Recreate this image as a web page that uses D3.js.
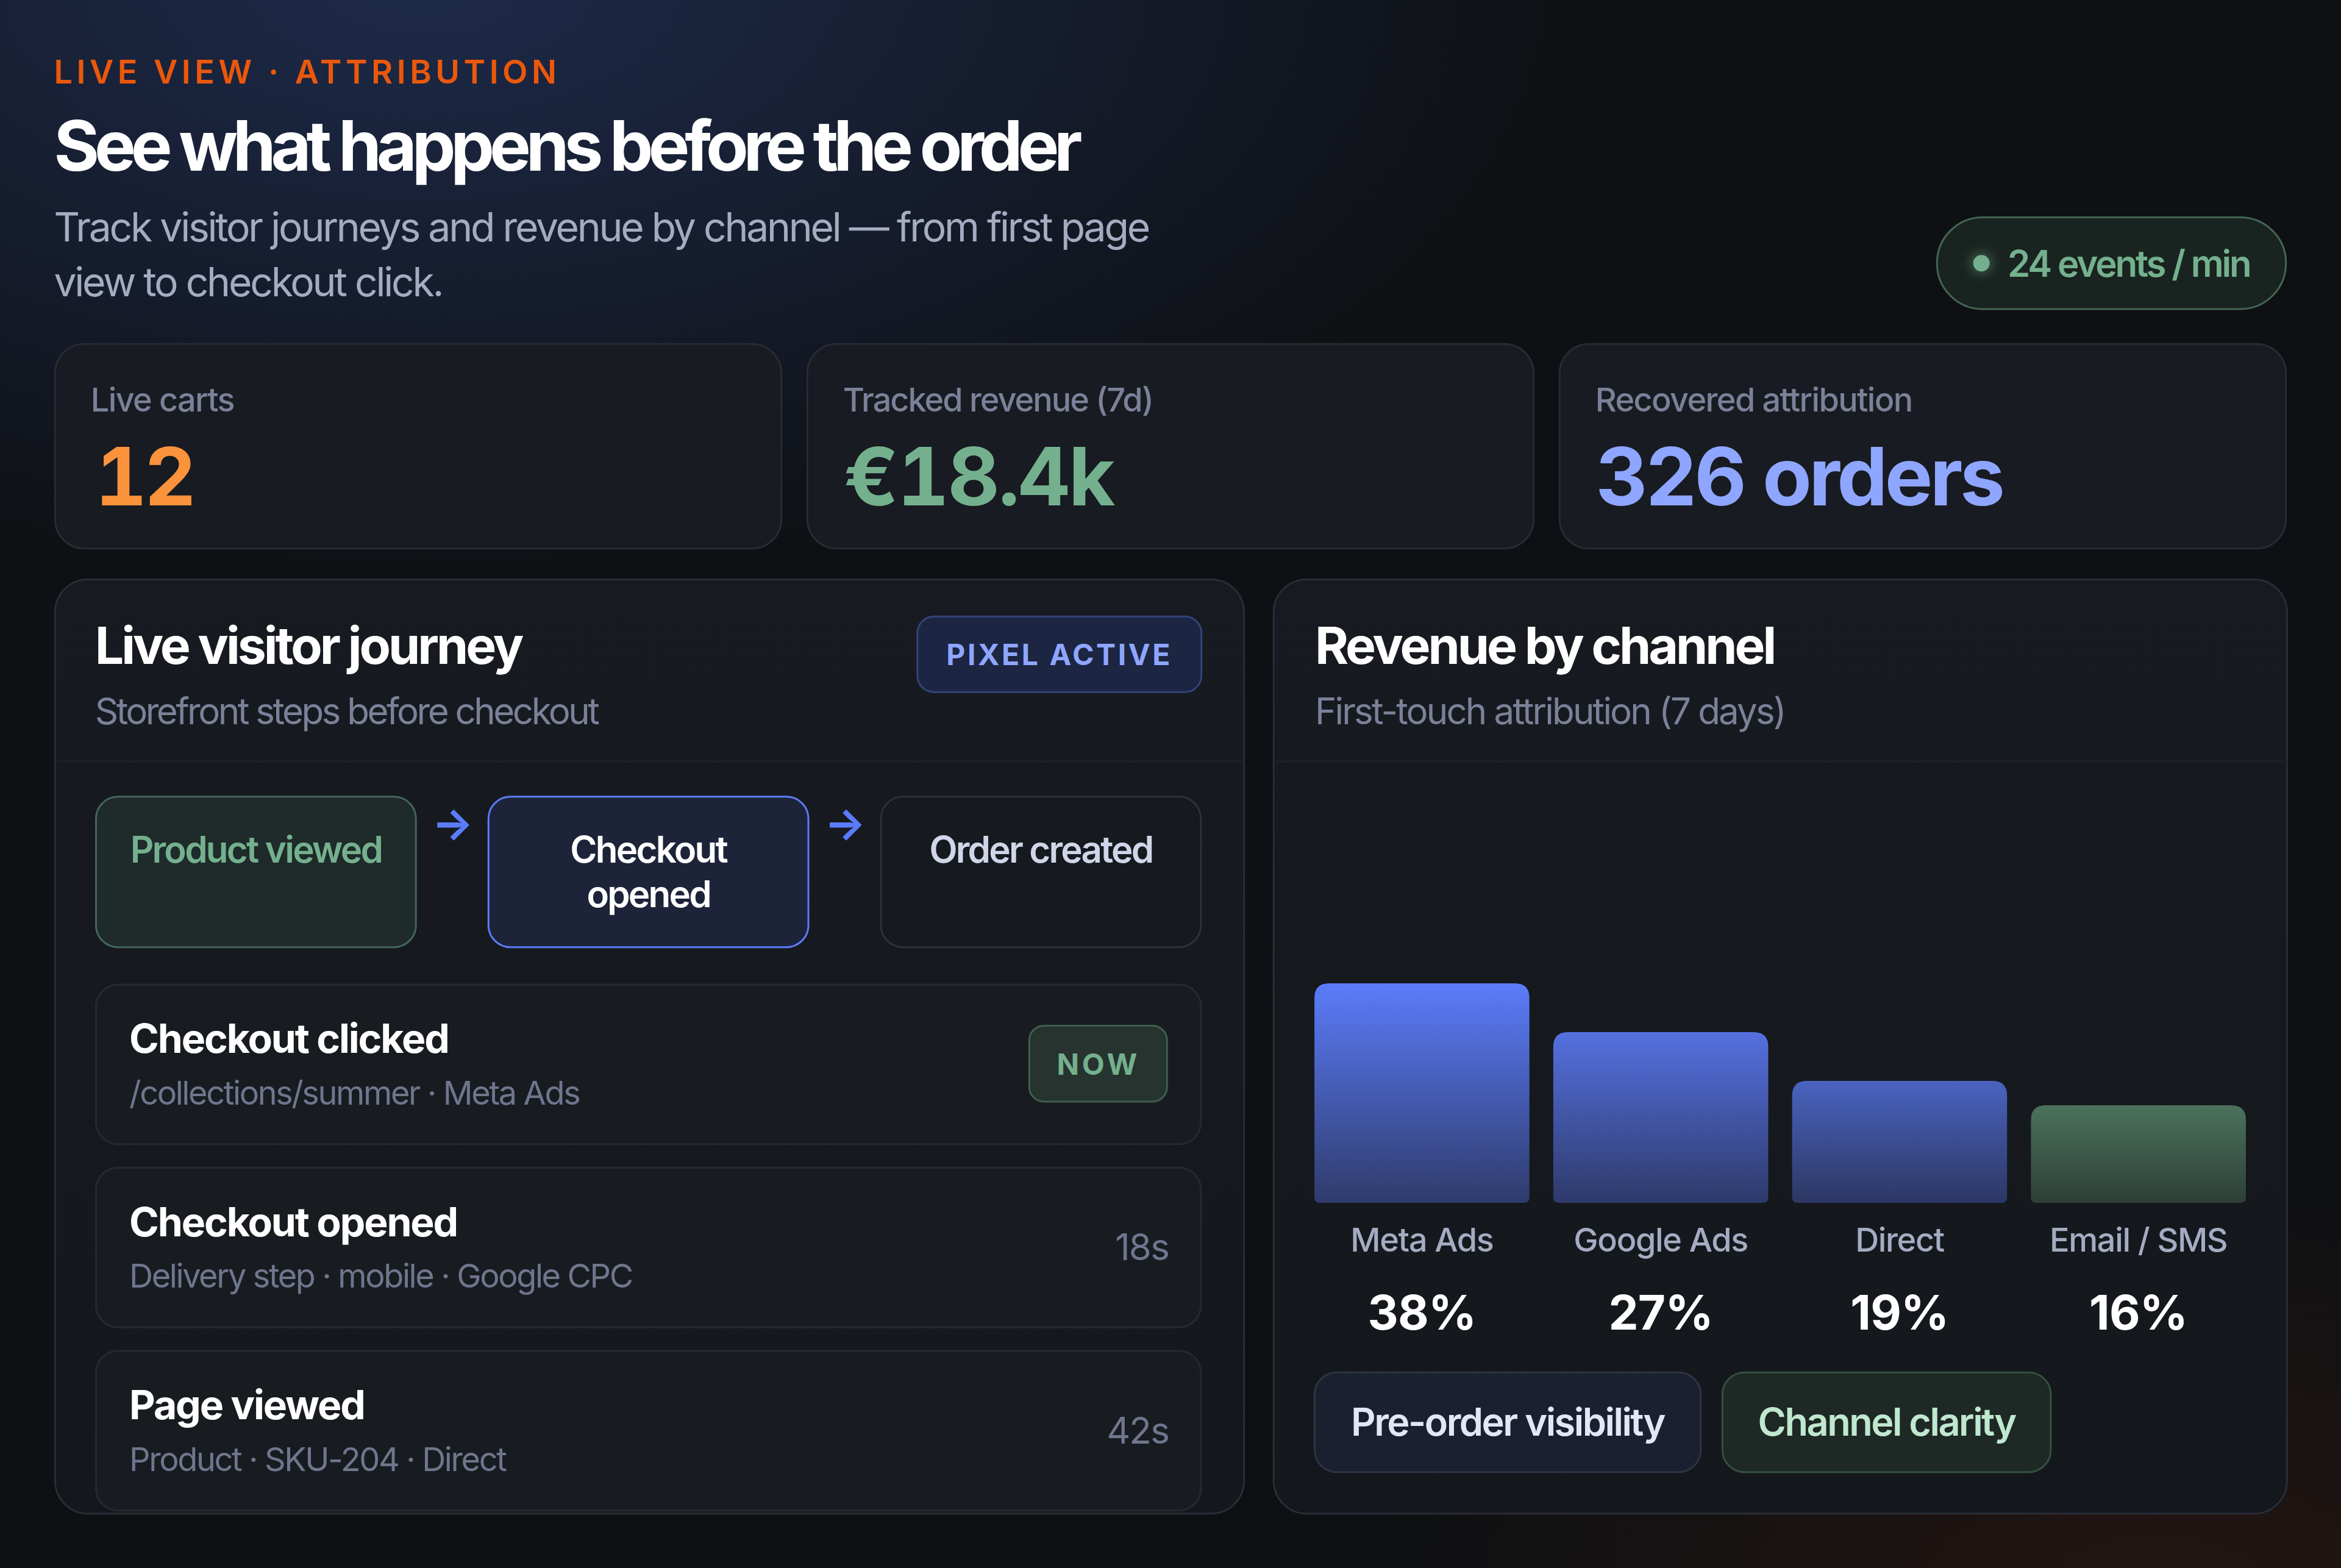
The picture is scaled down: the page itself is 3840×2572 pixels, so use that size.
<!DOCTYPE html>
<html>
<head>
<meta charset="utf-8">
<script src="https://cdn.jsdelivr.net/npm/d3@7"></script>
<style>
    html, body { margin: 0; padding: 0; background: #0e1013; }
    svg { display: block; }
    text { font-family: Inter, "Noto Sans", sans-serif; }
</style>
</head>
<body>
<div id="visualization"></div>
<script>
// values
const statLabels = ["Live carts", "Tracked revenue (7d)", "Recovered attribution"];
const statValues = ["12", "€18.4k", "326 orders"];
const stepLabels = [["Product viewed"], ["Checkout", "opened"], ["Order created"]];
const rowTitles = ["Checkout clicked", "Checkout opened", "Page viewed"];
const rowDetails = ["/collections/summer · Meta Ads", "Delivery step · mobile · Google CPC", "Product · SKU-204 · Direct"];
const rowTimes = ["NOW", "18s", "42s"];
const channels = ["Meta Ads", "Google Ads", "Direct", "Email / SMS"];
const channelShares = [38, 27, 19, 16];
const barLevels = [72, 56, 40, 32]; // bar height in % of the plot, not the same as the share
const tagLabels = ["Pre-order visibility", "Channel clarity"];

// colours
const statColors = ["#fb923c", "#74b08e", "#8ea6ff"];
const barTopColors = ["#5b7cfa", "#5570e0", "#4a63bf", "#4b715c"];
const barBottomColors = ["#2f3b6b", "#2e3a6a", "#2c3763", "#2d3f37"];

// the tracking of each stat text differs a bit in the picture
const statLabelSpacing = [-0.03, -0.037, -0.03];
const statValueSpacing = [-0.035, -0.02, -0.035];
const statValueShift = [2, 0, 0];

const width = 1280;
const height = 2572 / 3;
const margin = { left: 30, right: 30 };

const svg = d3.select("div#visualization").append("svg")
    .attr("width", 3840)
    .attr("height", 2572)
    .attr("viewBox", [0, 0, width, height]);

const defs = svg.append("defs");

function radial(id, cx, cy, rx, ry, color, opacity) {
    const g = defs.append("radialGradient").attr("id", id)
        .attr("gradientUnits", "userSpaceOnUse")
        .attr("cx", 0).attr("cy", 0).attr("r", 1)
        .attr("gradientTransform", `translate(${cx},${cy}) scale(${rx},${ry})`);
    g.append("stop").attr("offset", 0).attr("stop-color", color).attr("stop-opacity", opacity);
    g.append("stop").attr("offset", 1).attr("stop-color", color).attr("stop-opacity", 0);
}

function box(parent, x, y, w, h, r, fill, stroke) {
    return parent.append("rect")
        .attr("x", x + 0.1).attr("y", y + 0.1)
        .attr("width", w - 0.2).attr("height", h - 0.2)
        .attr("rx", r)
        .attr("fill", fill)
        .attr("stroke", stroke)
        .attr("stroke-width", 1);
}

function label(parent, str, x, y, size, weight, color, spacing, anchor) {
    return parent.append("text")
        .attr("x", x).attr("y", y)
        .attr("text-anchor", anchor || "start")
        .style("font-size", size + "px")
        .style("font-weight", weight)
        .style("letter-spacing", (spacing || 0) + "em")
        .attr("fill", color)
        .text(str);
}

function drawBackground() {
    radial("glowBlue", 230, -10, 640, 330, "#1f2d50", 0.9);
    radial("glowRed", 1180, 880, 430, 240, "#3a1c10", 0.5);
    svg.append("rect").attr("width", width).attr("height", height).attr("fill", "#0e1013");
    svg.append("rect").attr("width", width).attr("height", height).attr("fill", "url(#glowBlue)");
    svg.append("rect").attr("width", width).attr("height", height).attr("fill", "url(#glowRed)");

    const panel = defs.append("linearGradient").attr("id", "panelFill")
        .attr("x1", 0).attr("x2", 0).attr("y1", 0).attr("y2", 1);
    panel.append("stop").attr("offset", 0).attr("stop-color", "#171a20");
    panel.append("stop").attr("offset", 1).attr("stop-color", "#14181c");
}

function drawHeader() {
    const left = margin.left - 0.5;
    label(svg, "LIVE VIEW · ATTRIBUTION", left, 45.8, 18, 600, "#ea580c", 0.12);
    label(svg, "See what happens before the order", left, 93.4, 38, 700, "#ffffff", -0.072);
    label(svg, "Track visitor journeys and revenue by channel — from first page", left, 131.9, 22, 400, "#a5acc2", -0.049);
    label(svg, "view to checkout click.", left, 161.9, 22, 400, "#a5acc2", -0.049);

    defs.append("filter").attr("id", "dotGlow")
        .attr("x", "-200%").attr("y", "-200%").attr("width", "500%").attr("height", "500%")
        .append("feGaussianBlur").attr("stdDeviation", 3.5);
    box(svg, 1059, 118.7, 191, 50.4, 25, "#19231f", "#446652");
    svg.append("circle").attr("cx", 1083.4).attr("cy", 143.9).attr("r", 5).attr("fill", "#74b08e")
        .attr("opacity", 0.6).attr("filter", "url(#dotGlow)");
    svg.append("circle").attr("cx", 1083.4).attr("cy", 143.9).attr("r", 4.5).attr("fill", "#74b08e");
    label(svg, "24 events / min", 1097.7, 151.3, 20, 600, "#74b08e", -0.053);
}

function drawStats() {
    const x = d3.scaleBand().domain(d3.range(statLabels.length))
        .range([margin.left, width - margin.right]).paddingInner(14 / 411);
    statLabels.forEach((d, i) => {
        const g = svg.append("g").attr("transform", `translate(${x(i)},188)`);
        box(g, 0, 0, x.bandwidth(), 112, 16, "#181b21", "#282b33");
        label(g, d, 19.6, 37, 18, 500, "#7b8198", statLabelSpacing[i]);
        label(g, statValues[i], 20 + statValueShift[i], 88.2, 44, 700, statColors[i], statValueSpacing[i])
            .style("font-variant-numeric", "tabular-nums");
    });
}

function drawJourney() {
    const g = svg.append("g");
    defs.append("clipPath").attr("id", "journeyClip")
        .append("rect").attr("x", 30).attr("y", 316.7).attr("width", 650.3).attr("height", 511).attr("rx", 18);
    box(g, 30, 316.7, 650.3, 511, 18, "url(#panelFill)", "#2a2d36");
    g.append("line").attr("x1", 31).attr("x2", 679.3).attr("y1", 416.3).attr("y2", 416.3).attr("stroke", "#1e2128");

    label(g, "Live visitor journey", 51.9, 363, 28, 700, "#ffffff", -0.048);
    label(g, "Storefront steps before checkout", 51.9, 396, 20, 400, "#7b8198", -0.058);
    box(g, 501.5, 337, 155.5, 41.5, 9, "#1c2541", "#34447a");
    label(g, "PIXEL ACTIVE", 579.2, 363.6, 16, 700, "#8ea6ff", 0.075, "middle");

    // steps
    const stepX = d3.scaleBand().domain(d3.range(stepLabels.length)).range([52.4, 656.7]).paddingInner(39.5 / 214.7);
    const stepFill = ["#1f2a2a", "#1d2439", "none"];
    const stepStroke = ["#44665a", "#5b7cfa", "#2e313c"];
    const stepText = ["#74b08e", "#ffffff", "#d0d6e8"];
    stepLabels.forEach((lines, i) => {
        const sx = stepX(i);
        box(g, sx, 435.5, stepX.bandwidth(), 82.5, 12, stepFill[i], stepStroke[i]);
        lines.forEach((line, j) => {
            label(g, line, sx + stepX.bandwidth() / 2, 471.6 + j * 24.3, 20, 600, stepText[i], -0.046, "middle");
        });
        if (i < stepLabels.length - 1) {
            label(g, "→", sx + stepX.bandwidth() + 20, 458.8, 24, 700, "#5b7cfa", 0, "middle");
        }
    });

    // event rows
    const rowY = d3.scaleBand().domain(d3.range(rowTitles.length)).range([538.2, 826]).paddingInner(12.7 / 100.4);
    const rows = g.append("g").attr("clip-path", "url(#journeyClip)");
    rowTitles.forEach((d, i) => {
        const y = rowY(i);
        box(rows, 52.4, y, 604.3, rowY.bandwidth(), 12, "#181c21", "#262932");
        label(rows, d, 70.7, y + 37.5, 22, 700, "#ffffff", -0.032);
        label(rows, rowDetails[i], 70.7, y + 65.7, 18, 400, "#6f768d", -0.044);
        if (rowTimes[i] === "NOW") {
            box(rows, 562.7, y + 22.5, 75.5, 41.7, 8, "#26332e", "#3f5e4e");
            label(rows, rowTimes[i], 600.6, y + 49.3, 16, 700, "#74b08e", 0.1, "middle");
        } else {
            label(rows, rowTimes[i], 639, y + 50.7, 20, 400, "#6f768d", -0.03, "end");
        }
    });
}

function drawChannels() {
    const g = svg.append("g");
    box(g, 696.3, 316.7, 554.3, 511, 18, "url(#panelFill)", "#2a2d36");
    g.append("line").attr("x1", 697.3).attr("x2", 1249.6).attr("y1", 416.3).attr("y2", 416.3).attr("stroke", "#1e2128");
    label(g, "Revenue by channel", 719, 363, 28, 700, "#ffffff", -0.048);
    label(g, "First-touch attribution (7 days)", 719, 396, 20, 400, "#7b8198", -0.047);

    const x = d3.scaleBand().domain(channels).range([718.7, 1228]).paddingInner(0.1);
    const y = d3.scaleLinear().domain([0, 100]).range([657.7, 491]);

    channels.forEach((d, i) => {
        const grad = defs.append("linearGradient").attr("id", "bar" + i)
            .attr("x1", 0).attr("x2", 0).attr("y1", 0).attr("y2", 1);
        grad.append("stop").attr("offset", 0).attr("stop-color", barTopColors[i]);
        grad.append("stop").attr("offset", 1).attr("stop-color", barBottomColors[i]);
    });

    const barPath = (d, i) => {
        const x0 = x(channels[i]), x1 = x0 + x.bandwidth();
        const top = y(d), bottom = y(0), rt = 8, rb = 3;
        return `M${x0},${bottom - rb}V${top + rt}Q${x0},${top} ${x0 + rt},${top}H${x1 - rt}Q${x1},${top} ${x1},${top + rt}V${bottom - rb}Q${x1},${bottom} ${x1 - rb},${bottom}H${x0 + rb}Q${x0},${bottom} ${x0},${bottom - rb}Z`;
    };

    g.selectAll("path.bar")
        .data(barLevels)
        .join("path")
        .attr("class", "bar")
        .attr("d", barPath)
        .attr("fill", (d, i) => `url(#bar${i})`);

    const axis = g.append("g")
        .attr("transform", `translate(0,${y(0)})`)
        .call(d3.axisBottom(x).tickSize(0).tickPadding(14));
    axis.select(".domain").remove();
    axis.selectAll("text")
        .style("font-family", "Inter")
        .style("font-size", "18px")
        .style("font-weight", 500)
        .style("letter-spacing", "-0.025em")
        .attr("fill", "#a5acc2");

    g.selectAll("text.share")
        .data(channelShares)
        .join("text")
        .attr("class", "share")
        .attr("x", (d, i) => x(channels[i]) + x.bandwidth() / 2)
        .attr("y", 727)
        .attr("text-anchor", "middle")
        .style("font-size", "26px")
        .style("font-weight", 700)
        .style("letter-spacing", "-0.01em")
        .attr("fill", "#ffffff")
        .text(d => d + "%");

    const tagX = [718.7, 941.7];
    const tagW = [211.3, 179.7];
    const tagFill = ["#1a2030", "#1e2825"];
    const tagStroke = ["#2e3444", "#34503f"];
    const tagText = ["#e2e6f5", "#bfe8cf"];
    tagLabels.forEach((d, i) => {
        box(g, tagX[i], 750.3, tagW[i], 54.7, 12, tagFill[i], tagStroke[i]);
        label(g, d, tagX[i] + tagW[i] / 2, 785, 21, 600, tagText[i], -0.04, "middle");
    });
}

drawBackground();
drawHeader();
drawStats();
drawJourney();
drawChannels();
</script>
</body>
</html>
